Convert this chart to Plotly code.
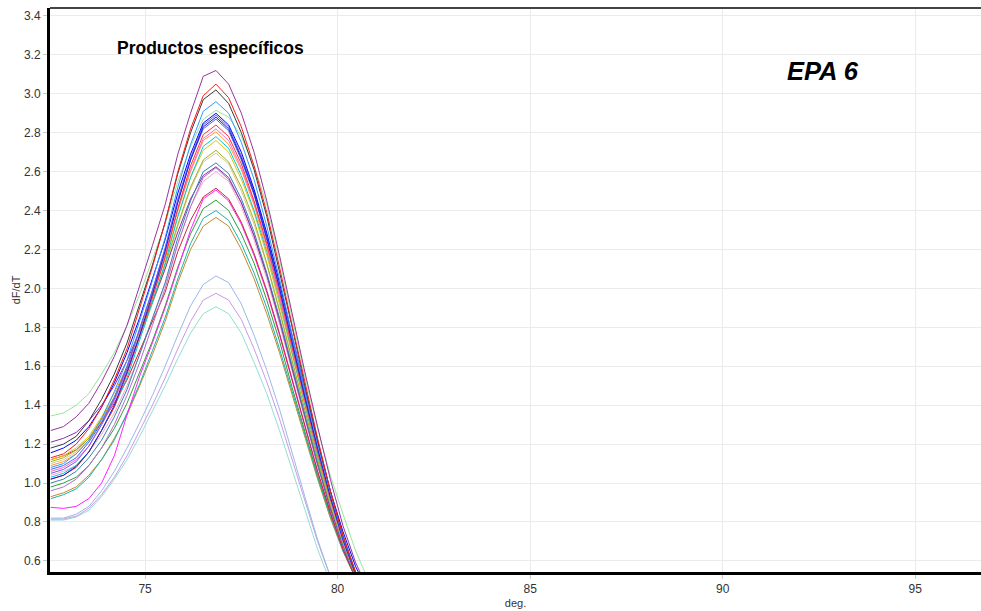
import plotly.graph_objects as go

# Temperature grid (deg.) of the melt-curve derivative readings
temps = [72.55, 72.88, 73.21, 73.54, 73.87, 74.20, 74.53, 74.86, 75.19, 75.52,
         75.85, 76.18, 76.51, 76.84, 77.17, 77.50, 77.83, 78.16, 78.49, 78.82,
         79.15, 79.48, 79.81, 80.14, 80.47, 80.80]

# dF/dT per well
well_01 = [1.27, 1.29, 1.34, 1.41, 1.52, 1.65, 1.81, 2.01, 2.22, 2.43, 2.69, 2.90, 3.09,
           3.12, 3.05, 2.90, 2.70, 2.45, 2.17, 1.87, 1.57, 1.29, 1.02, 0.78, 0.59, 0.45]
well_02 = [1.13, 1.15, 1.20, 1.28, 1.39, 1.53, 1.69, 1.90, 2.11, 2.34, 2.60, 2.82, 2.99,
           3.05, 2.98, 2.83, 2.63, 2.39, 2.11, 1.81, 1.52, 1.23, 0.96, 0.73, 0.54, 0.40]
well_03 = [1.18, 1.20, 1.24, 1.32, 1.43, 1.56, 1.72, 1.92, 2.12, 2.34, 2.59, 2.80, 2.97,
           3.02, 2.95, 2.80, 2.61, 2.37, 2.09, 1.80, 1.50, 1.22, 0.96, 0.73, 0.54, 0.40]
well_04 = [1.08, 1.10, 1.15, 1.22, 1.33, 1.47, 1.63, 1.83, 2.04, 2.26, 2.52, 2.74, 2.91,
           2.96, 2.90, 2.75, 2.56, 2.32, 2.05, 1.76, 1.48, 1.20, 0.95, 0.72, 0.54, 0.40]
well_05 = [1.345, 1.36, 1.40, 1.46, 1.56, 1.67, 1.81, 1.97, 2.15, 2.33, 2.55, 2.73, 2.87,
           2.915, 2.88, 2.78, 2.63, 2.43, 2.15, 1.85, 1.55, 1.28, 1.04, 0.84, 0.65, 0.50]
well_06 = [1.155, 1.18, 1.22, 1.29, 1.39, 1.515, 1.67, 1.85, 2.05, 2.25, 2.49, 2.69, 2.85,
           2.90, 2.84, 2.70, 2.51, 2.285, 2.03, 1.75, 1.48, 1.21, 0.96, 0.75, 0.57, 0.44]
well_07 = [1.02, 1.04, 1.085, 1.16, 1.27, 1.40, 1.57, 1.76, 1.97, 2.19, 2.44, 2.66, 2.83,
           2.88, 2.82, 2.67, 2.49, 2.26, 2.00, 1.72, 1.44, 1.18, 0.93, 0.71, 0.53, 0.40]
well_08 = [1.05, 1.07, 1.11, 1.19, 1.30, 1.43, 1.59, 1.79, 1.99, 2.21, 2.46, 2.67, 2.84,
           2.89, 2.83, 2.68, 2.50, 2.27, 2.01, 1.73, 1.45, 1.18, 0.93, 0.71, 0.53, 0.40]
well_09 = [1.07, 1.09, 1.13, 1.21, 1.31, 1.44, 1.60, 1.79, 1.99, 2.20, 2.45, 2.66, 2.82,
           2.87, 2.81, 2.66, 2.48, 2.25, 2.00, 1.72, 1.44, 1.17, 0.93, 0.71, 0.53, 0.40]
well_10 = [1.06, 1.08, 1.12, 1.19, 1.30, 1.42, 1.58, 1.76, 1.96, 2.17, 2.41, 2.61, 2.77,
           2.82, 2.76, 2.62, 2.44, 2.22, 1.96, 1.69, 1.42, 1.16, 0.92, 0.70, 0.53, 0.40]
well_11 = [1.09, 1.11, 1.15, 1.22, 1.32, 1.44, 1.59, 1.78, 1.97, 2.17, 2.40, 2.60, 2.76,
           2.805, 2.74, 2.61, 2.43, 2.20, 1.95, 1.68, 1.41, 1.15, 0.91, 0.70, 0.53, 0.40]
well_12 = [1.03, 1.05, 1.09, 1.16, 1.27, 1.39, 1.54, 1.73, 1.93, 2.13, 2.37, 2.57, 2.73,
           2.78, 2.72, 2.58, 2.40, 2.19, 1.94, 1.67, 1.40, 1.14, 0.91, 0.70, 0.53, 0.40]
well_13 = [1.11, 1.13, 1.17, 1.23, 1.33, 1.44, 1.58, 1.75, 1.93, 2.12, 2.33, 2.52, 2.66,
           2.71, 2.65, 2.52, 2.35, 2.13, 1.89, 1.63, 1.37, 1.12, 0.89, 0.69, 0.52, 0.40]
well_14 = [1.10, 1.12, 1.16, 1.22, 1.32, 1.43, 1.57, 1.74, 1.92, 2.10, 2.32, 2.51, 2.65,
           2.695, 2.64, 2.50, 2.33, 2.12, 1.88, 1.62, 1.37, 1.12, 0.89, 0.69, 0.52, 0.40]
well_15 = [1.00, 1.02, 1.06, 1.13, 1.22, 1.34, 1.48, 1.66, 1.84, 2.03, 2.26, 2.45, 2.60,
           2.645, 2.59, 2.46, 2.29, 2.08, 1.85, 1.60, 1.35, 1.10, 0.88, 0.68, 0.52, 0.40]
well_16 = [1.21, 1.23, 1.26, 1.32, 1.40, 1.50, 1.63, 1.78, 1.93, 2.10, 2.29, 2.46, 2.58,
           2.625, 2.57, 2.44, 2.27, 2.07, 1.84, 1.59, 1.34, 1.10, 0.87, 0.68, 0.52, 0.40]
well_17 = [1.04, 1.06, 1.09, 1.16, 1.25, 1.36, 1.50, 1.66, 1.84, 2.02, 2.23, 2.42, 2.55,
           2.60, 2.55, 2.42, 2.25, 2.05, 1.82, 1.57, 1.33, 1.09, 0.87, 0.68, 0.52, 0.40]
well_18 = [1.12, 1.14, 1.17, 1.23, 1.31, 1.41, 1.53, 1.68, 1.83, 1.98, 2.19, 2.35, 2.47,
           2.515, 2.46, 2.34, 2.18, 1.99, 1.77, 1.53, 1.29, 1.06, 0.85, 0.66, 0.51, 0.40]
well_19 = [0.875, 0.87, 0.88, 0.92, 1.00, 1.14, 1.35, 1.55, 1.72, 1.90, 2.10, 2.30, 2.46,
           2.506, 2.45, 2.33, 2.17, 1.98, 1.76, 1.52, 1.29, 1.06, 0.85, 0.66, 0.51, 0.40]
well_20 = [0.98, 1.00, 1.03, 1.09, 1.18, 1.28, 1.41, 1.57, 1.73, 1.91, 2.11, 2.28, 2.41,
           2.454, 2.40, 2.28, 2.13, 1.94, 1.73, 1.49, 1.26, 1.04, 0.84, 0.66, 0.51, 0.40]
well_21 = [0.92, 0.94, 0.97, 1.03, 1.12, 1.22, 1.36, 1.51, 1.68, 1.85, 2.05, 2.23, 2.36,
           2.40, 2.35, 2.23, 2.08, 1.90, 1.69, 1.47, 1.24, 1.03, 0.83, 0.65, 0.51, 0.40]
well_22 = [0.93, 0.95, 0.98, 1.04, 1.12, 1.23, 1.35, 1.50, 1.66, 1.83, 2.03, 2.20, 2.32,
           2.365, 2.32, 2.20, 2.05, 1.87, 1.67, 1.45, 1.23, 1.02, 0.82, 0.65, 0.51, 0.40]
well_23 = [0.82, 0.82, 0.84, 0.88, 0.96, 1.06, 1.18, 1.31, 1.45, 1.60, 1.76, 1.91, 2.02,
           2.064, 2.03, 1.92, 1.76, 1.58, 1.38, 1.15, 0.93, 0.71, 0.52, 0.40, 0.32, 0.26]
well_24 = [0.815, 0.815, 0.83, 0.87, 0.94, 1.03, 1.14, 1.27, 1.40, 1.54, 1.69, 1.83, 1.94,
           1.975, 1.94, 1.84, 1.69, 1.52, 1.33, 1.12, 0.91, 0.70, 0.52, 0.40, 0.32, 0.26]
well_25 = [0.81, 0.81, 0.825, 0.86, 0.93, 1.02, 1.12, 1.24, 1.37, 1.50, 1.64, 1.77, 1.87,
           1.906, 1.87, 1.77, 1.62, 1.46, 1.27, 1.07, 0.86, 0.66, 0.49, 0.38, 0.30, 0.25]
well_26 = [1.02, 1.04, 1.08, 1.16, 1.27, 1.39, 1.56, 1.75, 1.95, 2.16, 2.41, 2.63, 2.79,
           2.84, 2.78, 2.64, 2.45, 2.23, 1.98, 1.70, 1.43, 1.16, 0.92, 0.71, 0.53, 0.40]
well_27 = [1.12, 1.14, 1.18, 1.24, 1.34, 1.46, 1.60, 1.78, 1.96, 2.15, 2.37, 2.57, 2.71,
           2.76, 2.70, 2.56, 2.39, 2.17, 1.92, 1.66, 1.39, 1.14, 0.90, 0.70, 0.53, 0.40]
well_28 = [0.96, 0.98, 1.02, 1.09, 1.18, 1.30, 1.45, 1.62, 1.81, 2.00, 2.23, 2.42, 2.57,
           2.62, 2.56, 2.44, 2.27, 2.07, 1.83, 1.58, 1.33, 1.09, 0.87, 0.68, 0.52, 0.40]

wells = [well_25, well_24, well_23, well_05, well_14, well_17, well_22, well_21, well_20,
         well_19, well_18, well_28, well_16, well_15, well_13, well_27, well_12, well_11,
         well_10, well_26, well_09, well_08, well_07, well_06, well_04, well_03, well_02,
         well_01]
well_colors = ["#8fe0d2", "#cc99e6", "#9bb8e8", "#99e699", "#dcc596", "#f2a7c8",
               "#c08a2a", "#20b2aa", "#2e9e3a", "#ff22ff", "#c8283a", "#b070cc",
               "#8a2ea8", "#3a7fb0", "#9ab31a", "#e2c21a", "#00c8d0", "#ff9933",
               "#ff66cc", "#ff3030", "#4169e1", "#6a5cff", "#2020c8", "#0000ff",
               "#3399ff", "#383838", "#ff1a1a", "#9933a0"]

fig = go.Figure()
for vals, col in zip(wells, well_colors):
    fig.add_trace(go.Scatter(x=temps, y=vals, mode="lines",
                             line=dict(color=col, width=1), hoverinfo="skip"))

axis_font = dict(family="Liberation Sans, Arial, sans-serif", size=12, color="#333333")

fig.update_layout(
    width=981, height=611,
    margin=dict(l=50, r=0, t=8, b=39),
    paper_bgcolor="white", plot_bgcolor="white",
    showlegend=False,
    font=axis_font,
    xaxis=dict(range=[72.53, 96.71], tickvals=[75, 80, 85, 90, 95],
               showgrid=True, gridcolor="#ebebeb", gridwidth=1, zeroline=False,
               showline=True, linecolor="black", linewidth=3,
               ticks="outside", ticklen=4, tickcolor="#c8c8c8",
               tickfont=axis_font,
               title=dict(text="deg.", font=dict(size=11, color="#333333"), standoff=4)),
    yaxis=dict(range=[0.543, 3.441], dtick=0.2, tick0=0, tickformat=".1f",
               showgrid=True, gridcolor="#ebebeb", gridwidth=1, zeroline=False,
               showline=True, linecolor="black", linewidth=3,
               ticks="outside", ticklen=4, tickcolor="#c8c8c8",
               tickfont=axis_font,
               title=dict(text="dF/dT", font=dict(size=11, color="#333333"), standoff=2)),
    shapes=[dict(type="line", xref="paper", yref="paper", x0=0, x1=1, y0=1, y1=1,
                 line=dict(color="#444444", width=2))],
    annotations=[
        dict(text="<b>Productos específicos</b>", xref="paper", yref="paper",
             x=(210 - 50) / 931, y=(611 - 39 - 48) / 564, xanchor="center", yanchor="middle",
             showarrow=False, font=dict(family="Liberation Sans, Arial, sans-serif",
                                        size=17.5, color="black")),
        dict(text="<b><i>EPA 6</i></b>", xref="paper", yref="paper",
             x=(823 - 50) / 931, y=(611 - 39 - 71) / 564, xanchor="center", yanchor="middle",
             showarrow=False, font=dict(family="Liberation Sans, Arial, sans-serif",
                                        size=25.5, color="black")),
    ],
)

fig.write_html("out.html")
